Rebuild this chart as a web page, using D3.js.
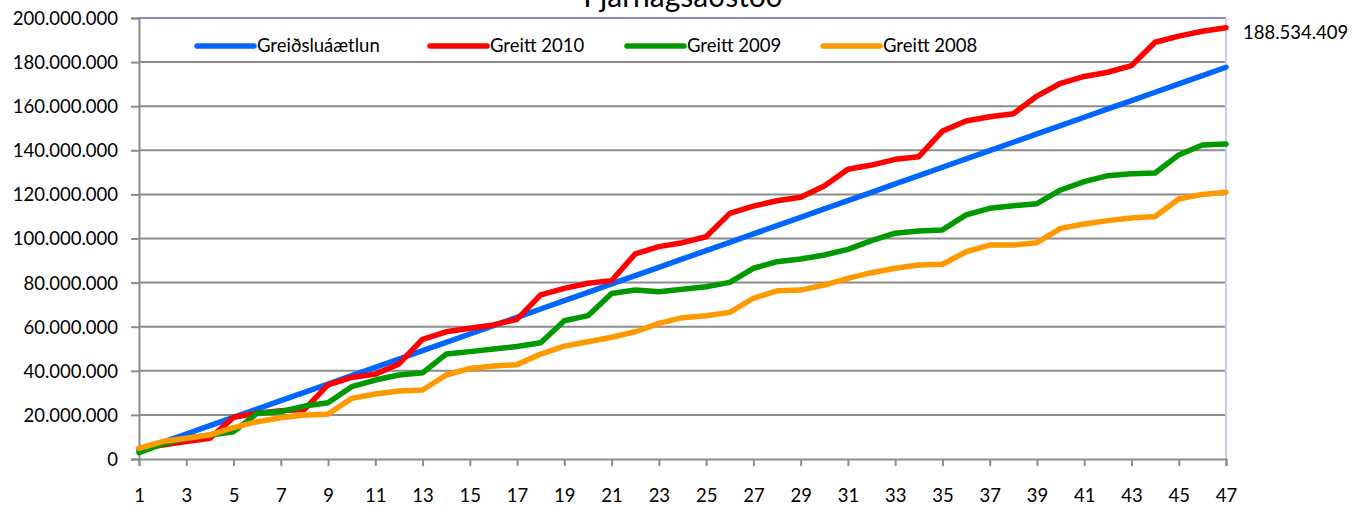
<!DOCTYPE html>
<html>
<head>
<meta charset="utf-8">
<script src="https://cdn.jsdelivr.net/npm/d3@7"></script>
<style>
  body { margin: 0; background: #fff; }
  svg text { font-family: Lato, "Open Sans", sans-serif; fill: #000; }
</style>
</head>
<body>
<div id="chart"></div>
<script>
// values in millions of kr, week 1..47
const weeks = d3.range(1, 48);
const plan = [3.78, 7.56, 11.34, 15.12, 18.9, 22.68, 26.46, 30.24, 34.02, 37.8, 41.58, 45.36, 49.14, 52.92, 56.7, 60.48,
  64.26, 68.04, 71.82, 75.6, 79.38, 83.16, 86.94, 90.72, 94.5, 98.28, 102.06, 105.84, 109.62, 113.4, 117.18, 120.96,
  124.74, 128.52, 132.3, 136.08, 139.86, 143.64, 147.42, 151.2, 154.98, 158.76, 162.54, 166.32, 170.1, 173.88, 177.66];
const paid2010 = [4.8, 6.3, 7.9, 9.4, 18.9, 20.7, 21.9, 22.5, 33.6, 37.0, 38.5, 43.1, 54.3, 57.7, 59.3, 60.8, 63.4, 74.4,
  77.4, 79.7, 80.9, 93.0, 96.3, 98.1, 100.8, 111.4, 114.7, 117.1, 118.7, 123.8, 131.4, 133.3, 135.9, 137.1, 148.7, 153.3,
  155.2, 156.6, 164.6, 170.4, 173.5, 175.4, 178.4, 189.0, 191.8, 194.0, 195.6];
const paid2009 = [2.9, 6.8, 9.4, 10.9, 12.4, 20.7, 21.5, 24.0, 25.5, 32.8, 35.8, 38.1, 39.1, 47.6, 48.7, 49.9, 51.0, 52.7,
  62.7, 65.0, 75.1, 76.6, 75.9, 77.0, 78.1, 80.1, 86.5, 89.5, 90.7, 92.5, 95.1, 99.0, 102.4, 103.4, 103.9, 110.7, 113.7,
  114.9, 115.8, 122.0, 125.8, 128.5, 129.4, 129.7, 137.9, 142.4, 142.9];
const paid2008 = [4.8, 7.9, 9.4, 10.9, 14.2, 16.9, 18.7, 20.0, 20.3, 27.5, 29.5, 30.8, 31.3, 38.1, 41.1, 42.2, 42.8, 47.6,
  51.2, 53.2, 55.2, 57.7, 61.5, 64.1, 65.0, 66.5, 72.9, 76.3, 76.6, 78.9, 81.9, 84.5, 86.5, 88.0, 88.3, 94.0, 97.0, 97.0,
  98.1, 104.6, 106.6, 108.1, 109.3, 110.0, 117.9, 120.0, 121.0];
const seriesNames = ["Greiðsluáætlun", "Greitt 2010", "Greitt 2009", "Greitt 2008"];
const colors = ["#0066ff", "#ff0000", "#009900", "#ff9900"];
const yTicks = d3.range(0, 201, 20);
const xTicks = d3.range(1, 48, 2);
const title = "Fjárhagsaðstoð";
const endLabel = "188.534.409";

const width = 1364, height = 507;
const plotLeft = 139, plotRight = 1226, plotTop = 18, plotBottom = 459;

const svg = d3.select("#chart").append("svg")
  .attr("width", width).attr("height", height);

const x = d3.scaleLinear().domain([1, 47]).range([plotLeft, plotRight]);
const y = d3.scaleLinear().domain([0, 200]).range([plotBottom, plotTop]);

const loc = d3.formatLocale({decimal: ",", thousands: ".", grouping: [3], currency: ["", ""]});
const fmt = loc.format(",");

// gridlines
svg.append("g")
  .selectAll("line")
  .data(yTicks.filter(d => d > 0 && d < 200)).enter()
  .append("line")
  .attr("x1", plotLeft).attr("x2", plotRight)
  .attr("y1", d => y(d)).attr("y2", d => y(d))
  .attr("stroke", "#8c8c8c").attr("stroke-width", 2);

// plot border top/right
svg.append("line").attr("x1", plotLeft).attr("x2", plotRight).attr("y1", plotTop).attr("y2", plotTop)
  .attr("stroke", "#8a8ac4").attr("stroke-width", 2);
svg.append("line").attr("x1", plotRight).attr("x2", plotRight).attr("y1", plotTop).attr("y2", plotBottom)
  .attr("stroke", "#c4ccf0").attr("stroke-width", 2);

// Y axis
const yAxis = svg.append("g")
  .attr("transform", "translate(" + plotLeft + ",0)")
  .call(d3.axisLeft(y).tickValues(yTicks).tickFormat(d => fmt(d * 1e6)).tickSize(8).tickPadding(13));
yAxis.select(".domain").attr("stroke", "#8c8c8c").attr("stroke-width", 2);
yAxis.selectAll(".tick line").attr("stroke", "#8c8c8c").attr("stroke-width", 2);
yAxis.selectAll("text").attr("font-size", 18.5).attr("font-family", "Lato").attr("dy", "0.35em");

// X axis
const xAxis = svg.append("g")
  .attr("transform", "translate(0," + plotBottom + ")")
  .call(d3.axisBottom(x).tickValues(xTicks).tickFormat(d3.format("d")).tickSize(7).tickPadding(23));
xAxis.select(".domain").attr("stroke", "#8c8c8c").attr("stroke-width", 2);
xAxis.selectAll(".tick line").attr("stroke", "#8c8c8c").attr("stroke-width", 2);
xAxis.selectAll("text").attr("font-size", 18.5).attr("font-family", "Lato");

// lines
const allSeries = [plan, paid2010, paid2009, paid2008];
const line = d3.line().x((d, i) => x(weeks[i])).y(d => y(d));
svg.append("g")
  .selectAll("path")
  .data(allSeries).enter()
  .append("path")
  .attr("d", d => line(d))
  .attr("fill", "none")
  .attr("stroke", (d, i) => colors[i])
  .attr("stroke-width", 5.5)
  .attr("stroke-linejoin", "round")
  .attr("stroke-linecap", "round");

// legend
const legendX = [197, 430, 627, 823];
const lg = svg.append("g")
  .selectAll("g")
  .data(seriesNames).enter()
  .append("g")
  .attr("transform", (d, i) => "translate(" + legendX[i] + ",46)");
lg.append("line").attr("x1", 0).attr("x2", 57).attr("y1", 0).attr("y2", 0)
  .attr("stroke", (d, i) => colors[i]).attr("stroke-width", 5.5).attr("stroke-linecap", "round");
lg.append("text").attr("x", 60).attr("dy", "0.35em").attr("font-size", 18.5).text(d => d);

// end value label
svg.append("text")
  .attr("x", 1243).attr("y", 33).attr("dy", "0.35em")
  .attr("font-size", 18.5).text(endLabel);

// title (cut off at top, as in the original)
svg.append("text")
  .attr("x", 683).attr("y", 7).attr("text-anchor", "middle")
  .attr("font-size", 30).text(title);
</script>
</body>
</html>
